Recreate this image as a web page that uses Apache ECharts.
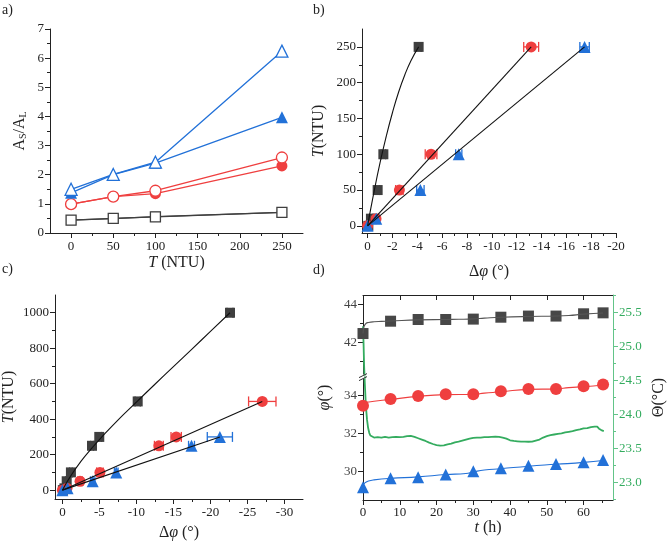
<!DOCTYPE html>
<html><head><meta charset="utf-8">
<script src="https://cdn.jsdelivr.net/npm/echarts@6/dist/echarts.min.js"></script>
<style>html,body{margin:0;padding:0;background:#fff}#c{width:668px;height:543px}</style>
</head><body><div id="c"></div>
<script>
// ---------- Panel a ----------
const aT = [0, 50, 100, 250];
const aTriOpen = [1.50, 2.01, 2.43, 6.24];
const aTriFill = [1.38, 2.00, 2.40, 3.97];
const aCirOpen = [0.99, 1.25, 1.45, 2.59];
const aCirFill = [0.99, 1.25, 1.35, 2.30];
const aSqOpen = [0.44, 0.50, 0.55, 0.71];
const aSqFill = [0.44, 0.49, 0.56, 0.71];
const aXTicks = [0, 50, 100, 150, 200, 250];
const aXMinor = [25, 75, 125, 175, 225];
const aYTicks = [0, 1, 2, 3, 4, 5, 6, 7];
const aYMinor = [0.5, 1.5, 2.5, 3.5, 4.5, 5.5, 6.5];

// ---------- Panel b ----------
const bT = [0, 10, 50, 100, 250];
const bSqDphi = [-0.06, -0.27, -0.81, -1.27, -4.11];
const bSqErr = [0.1, 0.12, 0.15, 0.18, 0.2];
const bCirDphi = [0, -0.68, -2.56, -5.11, -13.17];
const bCirErr = [0.1, 0.2, 0.3, 0.47, 0.6];
const bTriDphi = [0, -0.70, -4.25, -7.34, -17.47];
const bTriErr = [0.1, 0.2, 0.3, 0.25, 0.38];
const bSqFit = [[0, 0], [-0.5, 46], [-1, 88], [-1.5, 125], [-2, 158], [-2.5, 187], [-3, 211], [-3.5, 231], [-4.11, 250]];
const bCirFit = [[0, 0], [-13.17, 250]];
const bTriFit = [[0, 0], [-17.47, 250]];
const bXTicks = [0, -2, -4, -6, -8, -10, -12, -14, -16, -18, -20];
const bXMinor = [-1, -3, -5, -7, -9, -11, -13, -15, -17, -19];
const bYTicks = [0, 50, 100, 150, 200, 250];
const bYMinor = [25, 75, 125, 175, 225];

// ---------- Panel c ----------
const cSqT = [0, 10, 50, 100, 250, 300, 500, 1000];
const cSqDphi = [-0.06, -0.27, -0.58, -1.15, -4.0, -4.98, -10.17, -22.64];
const cSqErr = [0.1, 0.12, 0.15, 0.18, 0.2, 0.3, 0.35, 0.4];
const cCirT = [0, 10, 50, 100, 250, 300, 500];
const cCirDphi = [0, -0.62, -2.38, -5.07, -13.03, -15.37, -27.0];
const cCirErr = [0.1, 0.2, 0.3, 0.45, 0.6, 0.7, 1.85];
const cTriT = [0, 10, 50, 100, 250, 300];
const cTriDphi = [0, -0.70, -4.09, -7.27, -17.44, -21.27];
const cTriErr = [0.1, 0.2, 0.3, 0.25, 0.4, 1.7];
const cSqFit = [[0, 0], [-1, 72], [-2.5, 162], [-4, 238], [-5, 285], [-7.5, 395], [-10.17, 503], [-12.5, 597], [-15, 696], [-17.5, 795], [-20, 895], [-22.64, 1000]];
const cCirFit = [[0, 0], [-27.0, 500]];
const cTriFit = [[0, 0], [-21.27, 300]];
const cXTicks = [0, -5, -10, -15, -20, -25, -30];
const cXMinor = [-2.5, -7.5, -12.5, -17.5, -22.5, -27.5];
const cYTicks = [0, 200, 400, 600, 800, 1000];
const cYMinor = [100, 300, 500, 700, 900];

// ---------- Panel d ----------
const dT = [0, 7.5, 15, 22.5, 30, 37.5, 45, 52.5, 60, 65.3];
const dSq = [42.47, 43.12, 43.21, 43.21, 43.23, 43.33, 43.39, 43.39, 43.51, 43.56];
const dCir = [33.47, 33.82, 33.98, 34.07, 34.07, 34.23, 34.35, 34.35, 34.49, 34.58];
const dTri = [29.17, 29.65, 29.70, 29.84, 30.02, 30.17, 30.30, 30.40, 30.49, 30.61];
const dSqLine = [[0, 42.47], [0.3, 42.85], [0.8, 43.0], [1.5, 43.05], [3, 43.09], [5, 43.11], [7.5, 43.13], [15, 43.19], [22.5, 43.21], [26, 43.22], [30, 43.24], [33, 43.28], [37.5, 43.33], [45, 43.37], [52.5, 43.39], [56, 43.42], [60, 43.49], [65.3, 43.55]];
const dCirLine = [[0.2, 33.63], [3, 33.7], [7.5, 33.8], [15, 33.96], [22.5, 34.05], [30, 34.07], [33, 34.13], [37.5, 34.2], [45, 34.33], [52.5, 34.35], [56, 34.42], [60, 34.47], [65.3, 34.56]];
const dTriLine = [[0, 29.25], [0.5, 29.4], [1.5, 29.5], [3, 29.56], [7.5, 29.64], [15, 29.72], [22.5, 29.84], [28, 29.9], [30, 29.98], [33, 30.08], [37.5, 30.15], [45, 30.28], [52.5, 30.38], [60, 30.48], [65.3, 30.58]];
const dTemp = [[0, 25.30], [0.15, 25.05], [0.3, 24.72], [0.5, 24.45], [0.7, 24.22], [0.9, 24.05], [1.1, 23.92], [1.4, 23.80], [1.7, 23.73], [2.0, 23.69], [2.5, 23.67], [3, 23.66], [3.5, 23.67], [4, 23.665], [4.5, 23.655], [5, 23.66], [5.5, 23.67], [6, 23.67], [6.5, 23.66], [7, 23.66], [7.5, 23.67], [8, 23.665], [8.5, 23.675], [9, 23.67], [9.5, 23.66], [10, 23.665], [10.5, 23.675], [11, 23.67], [11.5, 23.68], [12, 23.68], [12.5, 23.69], [13, 23.685], [13.5, 23.68], [14, 23.67], [14.5, 23.66], [15, 23.65], [16, 23.63], [17, 23.61], [18, 23.585], [19, 23.565], [20, 23.55], [20.5, 23.545], [21, 23.54], [21.5, 23.535], [22, 23.545], [23, 23.56], [24, 23.57], [25, 23.59], [26, 23.6], [27, 23.615], [28, 23.63], [29, 23.645], [30, 23.655], [31, 23.66], [32, 23.66], [33, 23.665], [34, 23.665], [35, 23.67], [36, 23.675], [37, 23.67], [38, 23.66], [39, 23.645], [40, 23.62], [41, 23.61], [42, 23.605], [43, 23.6], [44, 23.6], [45, 23.598], [46, 23.6], [47, 23.615], [48, 23.63], [49, 23.66], [50, 23.68], [51, 23.695], [52, 23.705], [53, 23.715], [54, 23.72], [55, 23.735], [56, 23.745], [57, 23.755], [58, 23.77], [59, 23.78], [60, 23.795], [61, 23.8], [62, 23.815], [63, 23.82], [63.7, 23.82], [64.2, 23.79], [64.8, 23.77], [65.5, 23.755]];
const dXTicks = [0, 10, 20, 30, 40, 50, 60];
const dXMinor = [5, 15, 25, 35, 45, 55, 65];
const dYTicks = [30, 32, 34, 42, 44];
const dYMinor = [29, 31, 33, 41, 43];
const dY2Ticks = [23.0, 23.5, 24.0, 24.5, 25.0, 25.5];
const dY2Minor = [22.75, 23.25, 23.75, 24.25, 24.75, 25.25, 25.75];

// ---------- style ----------
const FONT = 'Liberation Serif';
const C_BLK = '#3f3f3f', C_RED = '#ef3f3f', C_BLUE = '#2271d8', C_GRN = '#34ac5f', C_GRN_AX = '#62c488';
const nameStyle = (color) => ({
  fontFamily: FONT, fontSize: 16, color: color || '#222',
  rich: {
    i: {fontFamily: FONT, fontSize: 16, fontStyle: 'italic', color: color || '#222'},
    n: {fontFamily: FONT, fontSize: 16, color: color || '#222'},
    s: {fontFamily: FONT, fontSize: 10, color: color || '#222', verticalAlign: 'bottom', lineHeight: 10, padding: [9, 0, 0, 0]}
  }
});

function axes(o) {
  const col = o.color || '#222';
  const major = {
    type: 'value', gridIndex: o.grid, min: o.min, max: o.max, inverse: !!o.inverse, position: o.position,
    axisLine: {show: true, onZero: false, lineStyle: {color: col, width: 1}},
    axisTick: {show: true, inside: !!o.inside, length: 5, customValues: o.major, lineStyle: {color: col}},
    axisLabel: {show: o.labels !== false, customValues: o.major, formatter: o.fmt || (v => String(v)),
      fontFamily: FONT, fontSize: 13, color: o.labelColor || '#222', margin: o.margin || 6},
    splitLine: {show: false},
    name: o.name || '', nameLocation: 'middle', nameGap: o.nameGap || 20, nameTextStyle: nameStyle(o.nameColor)
  };
  if (o.nameRotate !== undefined) major.nameRotate = o.nameRotate;
  if (o.breaks) { major.breaks = o.breaks; major.breakArea = {show: false}; }
  const minor = {
    type: 'value', gridIndex: o.grid, min: o.min, max: o.max, inverse: !!o.inverse, position: o.position,
    axisLine: {show: false, onZero: false},
    axisTick: {show: true, inside: !!o.inside, length: 3, customValues: o.minor, lineStyle: {color: col}},
    axisLabel: {show: false}, splitLine: {show: false}
  };
  if (o.breaks) { minor.breaks = o.breaks; minor.breakArea = {show: false}; }
  return o.minor ? [major, minor] : [major];
}

const xAxis = [].concat(
  axes({grid: 0, min: -25, max: 275, major: aXTicks, minor: aXMinor, position: 'bottom', margin: 7,
        name: '{i|T} (NTU)', nameGap: 22}),                                   // 0,1
  axes({grid: 1, min: -20, max: 0.45, inverse: true, major: bXTicks, minor: bXMinor, position: 'bottom', margin: 7,
        name: 'Δ{i|φ} (°)', nameGap: 31}),                                    // 2,3
  axes({grid: 2, min: -32.5, max: 1.0, inverse: true, major: cXTicks, minor: cXMinor, position: 'bottom', margin: 7,
        name: 'Δ{i|φ} (°)', nameGap: 26}),                                    // 4,5
  axes({grid: 3, min: 0, max: 68, major: dXTicks, minor: dXMinor, position: 'bottom', margin: 6,
        name: '{i|t} (h)', nameGap: 16}),                                     // 6,7
  axes({grid: 3, min: 0, max: 68, major: dXTicks, position: 'top', inside: true, labels: false})  // 8
);

const yAxis = [].concat(
  axes({grid: 0, min: 0, max: 7, major: aYTicks, minor: aYMinor, position: 'left',
        name: '{n|A}{s|S}{n|/A}{s|L}', nameGap: 22}),                         // 0,1
  axes({grid: 1, min: -10, max: 275, major: bYTicks, minor: bYMinor, position: 'left',
        name: '{i|T}(NTU)', nameGap: 35}),                                    // 2,3
  axes({grid: 2, min: -50, max: 1100, major: cYTicks, minor: cYMinor, position: 'left',
        name: '{i|T}(NTU)', nameGap: 38}),                                    // 4,5
  axes({grid: 3, min: 28.5, max: 44.5, major: dYTicks, minor: dYMinor, position: 'left',
        breaks: [{start: 35, end: 40.3, gap: 0.1}],
        name: '{i|φ}(°)', nameGap: 30, labelColor: '#444'}),                   // 6,7
  axes({grid: 3, min: 22.74, max: 25.76, major: dY2Ticks, minor: dY2Minor, position: 'right',
        color: C_GRN_AX, labelColor: C_GRN, fmt: v => v.toFixed(1), nameColor: '#222',
        name: 'Θ(°C)', nameGap: 38, nameRotate: 90})                          // 8,9
);

function lineSeries(xi, yi, xs, ys, sym, size, color, open) {
  return {
    type: 'line', xAxisIndex: xi, yAxisIndex: yi, data: xs.map((x, i) => [x, ys[i]]),
    symbol: sym, symbolSize: size, showSymbol: true,
    lineStyle: {color: color, width: 1.3},
    itemStyle: open ? {color: '#fff', borderColor: color, borderWidth: 1.3} : {color: color, borderColor: color, borderWidth: 0},
    z: 3
  };
}
function scat(xi, yi, xs, ys, sym, size, color) {
  return {type: 'scatter', xAxisIndex: xi, yAxisIndex: yi, data: xs.map((x, i) => [x, ys[i]]),
    symbol: sym, symbolSize: size, itemStyle: {color: color, opacity: 1}, z: 4};
}
function fit(xi, yi, pts, smooth, color) {
  return {type: 'line', xAxisIndex: xi, yAxisIndex: yi, data: pts, showSymbol: false, smooth: smooth ? 0.5 : false,
    lineStyle: {color: color || '#111', width: 1.1}, z: 5};
}
function errBars(xi, yi, xs, ys, errs, color) {
  return {
    type: 'custom', xAxisIndex: xi, yAxisIndex: yi, data: xs.map((x, i) => [x, ys[i], errs[i]]),
    encode: {x: 0, y: 1}, z: 3, silent: true,
    renderItem: function (params, api) {
      const x = api.value(0), y = api.value(1), e = api.value(2);
      const p1 = api.coord([x - e, y]), p2 = api.coord([x + e, y]);
      const h = 5, st = {stroke: color, lineWidth: 1.3};
      return {type: 'group', children: [
        {type: 'line', shape: {x1: p1[0], y1: p1[1], x2: p2[0], y2: p2[1]}, style: st},
        {type: 'line', shape: {x1: p1[0], y1: p1[1] - h, x2: p1[0], y2: p1[1] + h}, style: st},
        {type: 'line', shape: {x1: p2[0], y1: p2[1] - h, x2: p2[0], y2: p2[1] + h}, style: st}
      ]};
    }
  };
}

const series = [
  // a
  lineSeries(0, 0, aT, aSqFill, 'rect', 10, C_BLK, false),
  lineSeries(0, 0, aT, aSqOpen, 'rect', 10, C_BLK, true),
  lineSeries(0, 0, aT, aCirFill, 'circle', 11, C_RED, false),
  lineSeries(0, 0, aT, aCirOpen, 'circle', 11, C_RED, true),
  lineSeries(0, 0, aT, aTriFill, 'triangle', 12, C_BLUE, false),
  lineSeries(0, 0, aT, aTriOpen, 'triangle', 12, C_BLUE, true),
  // b
  errBars(2, 2, bSqDphi, bT, bSqErr, C_BLK),
  errBars(2, 2, bCirDphi, bT, bCirErr, C_RED),
  errBars(2, 2, bTriDphi, bT, bTriErr, C_BLUE),
  scat(2, 2, bSqDphi, bT, 'rect', 10, C_BLK),
  scat(2, 2, bCirDphi, bT, 'circle', 11, C_RED),
  scat(2, 2, bTriDphi, bT, 'triangle', 12, C_BLUE),
  fit(2, 2, bSqFit, true), fit(2, 2, bCirFit, false), fit(2, 2, bTriFit, false),
  // c
  errBars(4, 4, cSqDphi, cSqT, cSqErr, C_BLK),
  errBars(4, 4, cCirDphi, cCirT, cCirErr, C_RED),
  errBars(4, 4, cTriDphi, cTriT, cTriErr, C_BLUE),
  scat(4, 4, cSqDphi, cSqT, 'rect', 10, C_BLK),
  scat(4, 4, cCirDphi, cCirT, 'circle', 11, C_RED),
  scat(4, 4, cTriDphi, cTriT, 'triangle', 12, C_BLUE),
  fit(4, 4, cSqFit, true), fit(4, 4, cCirFit, false), fit(4, 4, cTriFit, false),
  // d
  {type: 'line', xAxisIndex: 6, yAxisIndex: 8, data: dTemp, showSymbol: false, lineStyle: {color: C_GRN, width: 1.8}, z: 2},
  fit(6, 6, dSqLine, true, '#555'), fit(6, 6, dCirLine, true, C_RED), fit(6, 6, dTriLine, true, C_BLUE),
  scat(6, 6, dT, dSq, 'rect', 11, '#474747'),
  scat(6, 6, dT, dCir, 'circle', 12, C_RED),
  scat(6, 6, dT, dTri, 'triangle', 12, C_BLUE)
];

const panelLabels = [
  {type: 'text', left: 2, top: 3, style: {text: 'a)', font: '14px "Liberation Serif"', fill: '#222'}},
  {type: 'text', left: 313, top: 3, style: {text: 'b)', font: '14px "Liberation Serif"', fill: '#222'}},
  {type: 'text', left: 2, top: 262, style: {text: 'c)', font: '14px "Liberation Serif"', fill: '#222'}},
  {type: 'text', left: 313, top: 263, style: {text: 'd)', font: '14px "Liberation Serif"', fill: '#222'}}
];

const chart = echarts.init(document.getElementById('c'), null, {renderer: 'canvas'});
chart.setOption({
  animation: false,
  backgroundColor: '#fff',
  textStyle: {fontFamily: FONT},
  grid: [
    {left: 50, top: 29, width: 253, height: 204},
    {left: 362, top: 29, width: 254, height: 204},
    {left: 50, top: 295, width: 253, height: 204},
    {left: 363, top: 295, width: 254, height: 205}
  ],
  xAxis: xAxis, yAxis: yAxis, series: series, graphic: panelLabels
});

// axis-break mark on panel d left axis
const yb = chart.convertToPixel({yAxisIndex: 6}, 35);
const xb = chart.convertToPixel({xAxisIndex: 6}, 0);
if (isFinite(yb) && isFinite(xb)) {
  chart.setOption({graphic: panelLabels.concat([
    {type: 'rect', shape: {x: xb - 1.5, y: yb - 2, width: 3, height: 4}, style: {fill: '#fff'}, z: 100},
    {type: 'line', shape: {x1: xb - 4, y1: yb + 1, x2: xb + 4, y2: yb - 3}, style: {stroke: '#333', lineWidth: 1}, z: 101},
    {type: 'line', shape: {x1: xb - 4, y1: yb + 4, x2: xb + 4, y2: yb}, style: {stroke: '#333', lineWidth: 1}, z: 101}
  ])});
}
</script>
</body></html>
